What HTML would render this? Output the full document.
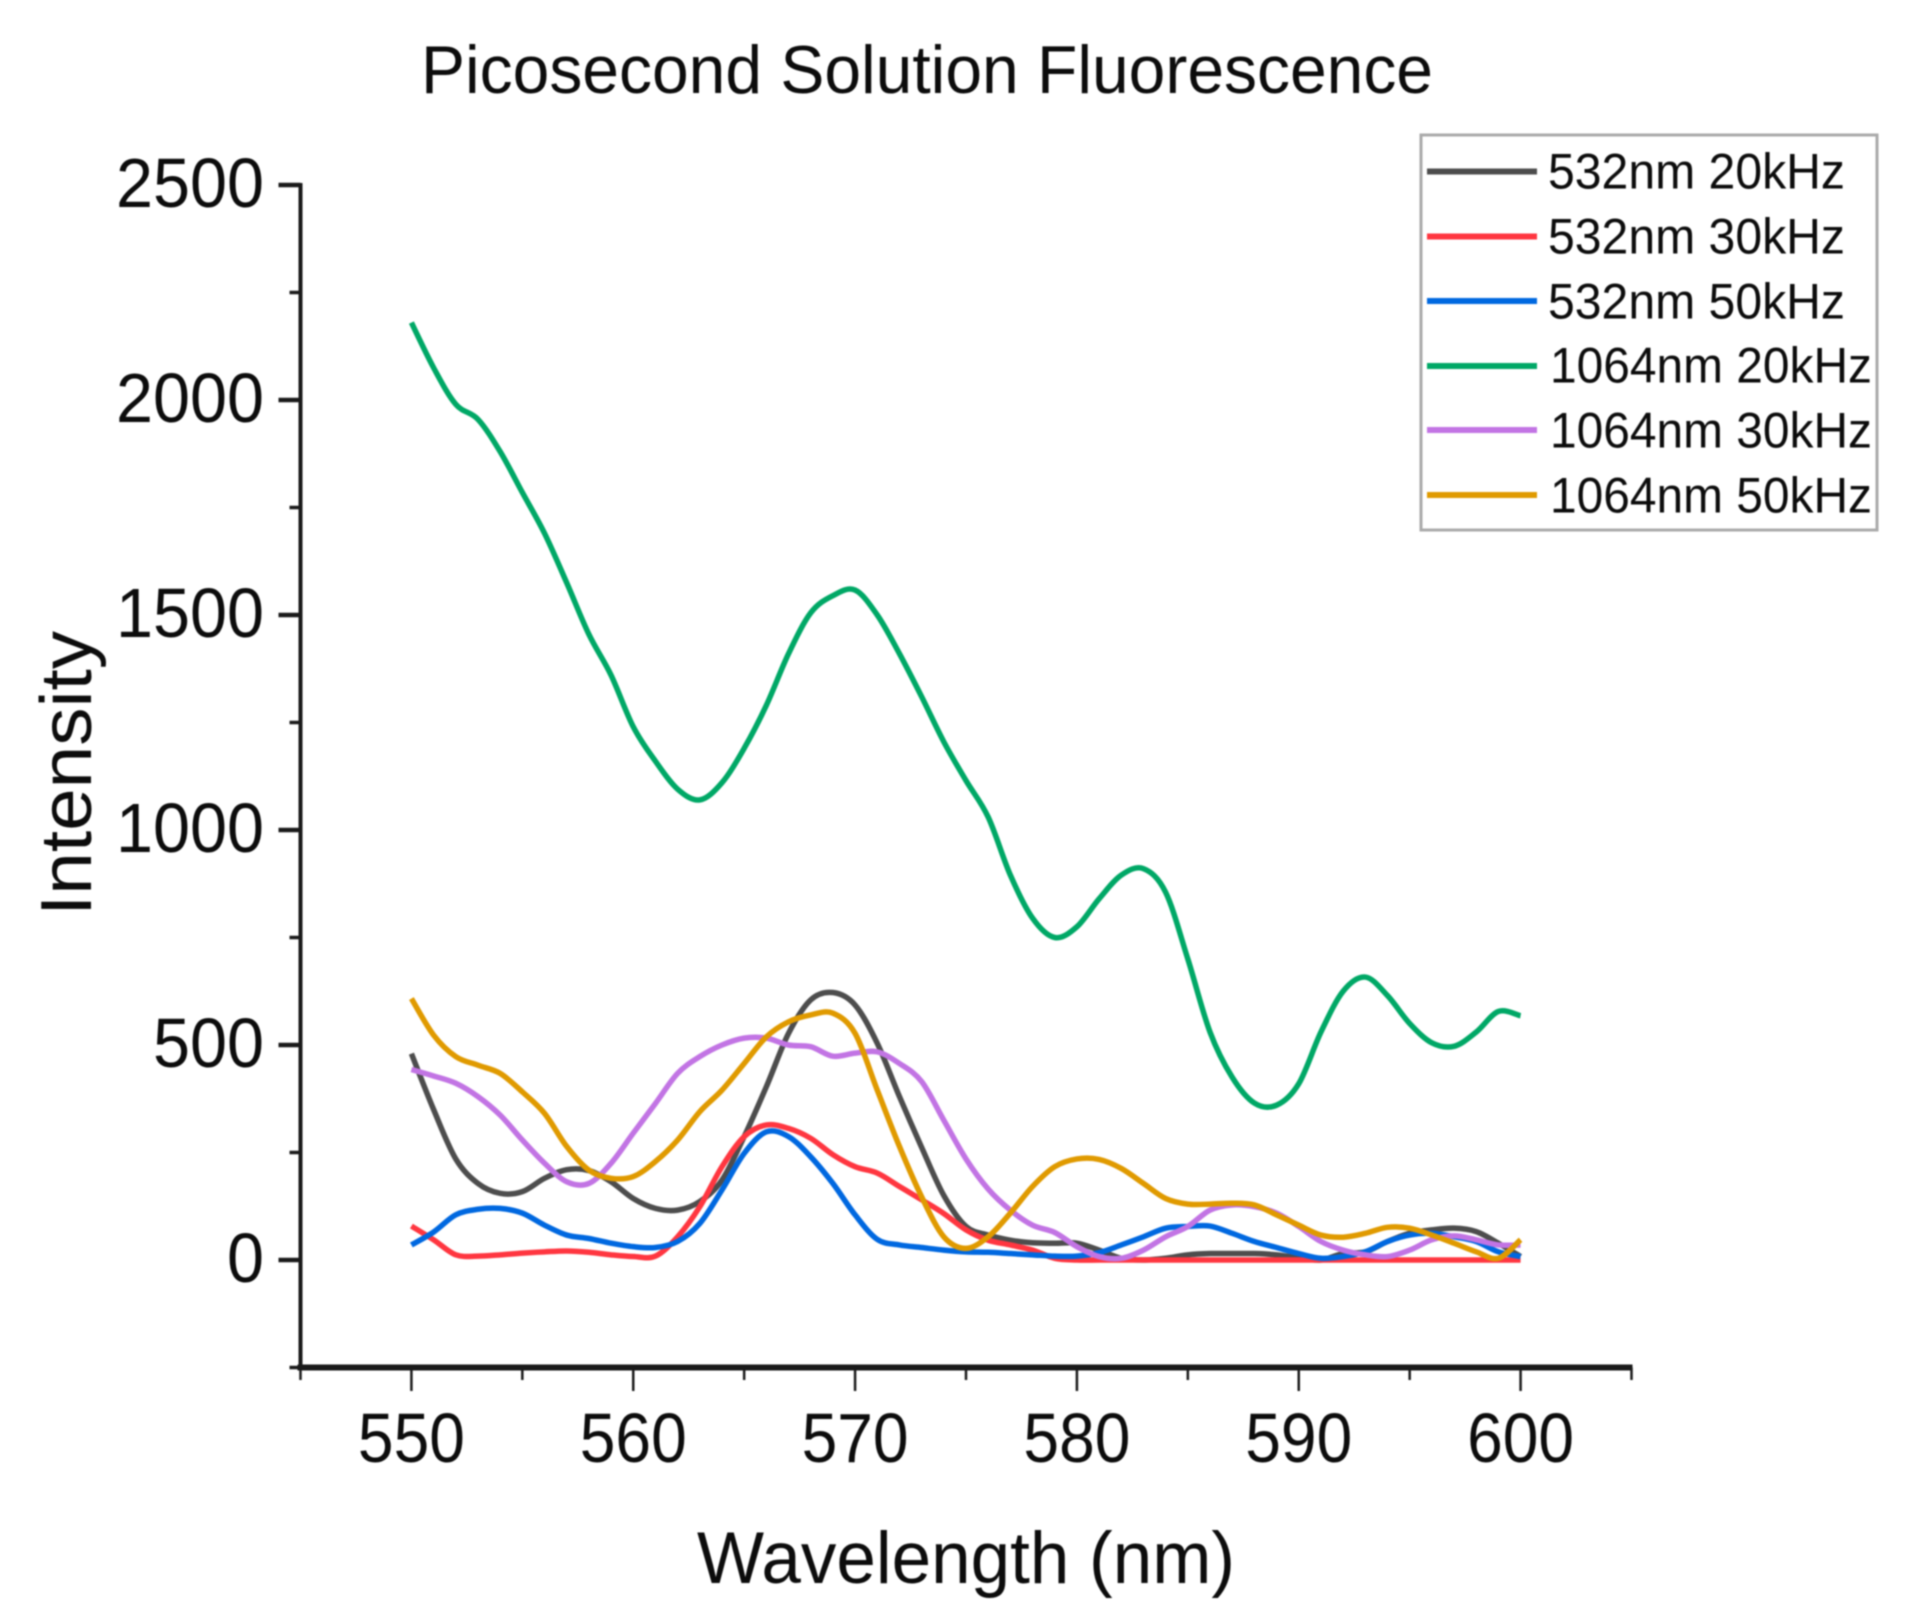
<!DOCTYPE html>
<html lang="en">
<head>
<meta charset="utf-8">
<title>Picosecond Solution Fluorescence</title>
<style>
  html, body { margin: 0; padding: 0; background: #fff; }
  body { width: 1920px; height: 1620px; overflow: hidden; }
  svg { display: block; filter: blur(0.9px); font-family: "Liberation Sans", Arial, sans-serif; }
  text { fill: #0c0c0c; }
</style>
</head>
<body>
<svg id="chart" xmlns="http://www.w3.org/2000/svg" width="1920" height="1620" viewBox="0 0 1920 1620">
  <text x="421" y="93" font-size="68" textLength="1012" lengthAdjust="spacingAndGlyphs">Picosecond Solution Fluorescence</text>
  <text x="697" y="1583" font-size="73" textLength="538" lengthAdjust="spacingAndGlyphs">Wavelength (nm)</text>
  <text transform="translate(91 916) rotate(-90)" font-size="72" textLength="285" lengthAdjust="spacingAndGlyphs">Intensity</text>
  <g id="axes"></g>
  <g id="series"></g>
  <g id="legend">
    <rect x="1421" y="135" width="456" height="395" fill="#fff" stroke="#aaa" stroke-width="3"/>
    <g>
      <line x1="1427" x2="1537" y1="171.5" y2="171.5" stroke="#4d4d4d" stroke-width="6"/>
      <text x="1548" y="188.5" font-size="50" textLength="297" lengthAdjust="spacingAndGlyphs">532nm 20kHz</text>
    </g>
    <g>
      <line x1="1427" x2="1537" y1="236.5" y2="236.5" stroke="#ff3640" stroke-width="6"/>
      <text x="1548" y="253.5" font-size="50" textLength="297" lengthAdjust="spacingAndGlyphs">532nm 30kHz</text>
    </g>
    <g>
      <line x1="1427" x2="1537" y1="301" y2="301" stroke="#0068e0" stroke-width="6"/>
      <text x="1548" y="318.5" font-size="50" textLength="297" lengthAdjust="spacingAndGlyphs">532nm 50kHz</text>
    </g>
    <g>
      <line x1="1427" x2="1537" y1="366" y2="366" stroke="#00a866" stroke-width="6"/>
      <text x="1550" y="382.5" font-size="50" textLength="322" lengthAdjust="spacingAndGlyphs">1064nm 20kHz</text>
    </g>
    <g>
      <line x1="1427" x2="1537" y1="430" y2="430" stroke="#c274e4" stroke-width="6"/>
      <text x="1550" y="447.5" font-size="50" textLength="322" lengthAdjust="spacingAndGlyphs">1064nm 30kHz</text>
    </g>
    <g>
      <line x1="1427" x2="1537" y1="495" y2="495" stroke="#e09a00" stroke-width="6"/>
      <text x="1550" y="512.5" font-size="50" textLength="322" lengthAdjust="spacingAndGlyphs">1064nm 50kHz</text>
    </g>
  </g>
</svg>
<script>
const wavelengths = [550,551,552,553,554,555,556,557,558,559,560,561,562,563,564,565,566,567,568,569,570,571,572,573,574,575,576,577,578,579,580,581,582,583,584,585,586,587,588,589,590,591,592,593,594,595,596,597,598,599,600];
const s532nm20kHz = [480,350,235,178,155,159,190,210,208,182,143,120,116,136,186,287,403,527,605,622,593,504,380,262,150,78,58,46,40,39,39,23,4,0,4,12,15,15,15,12,5,0,15,19,43,62,70,74,66,39,8];
const s532nm30kHz = [79,47,12,9,12,16,19,21,18,12,8,9,54,124,217,287,314,306,283,245,217,202,171,140,108,70,46,35,23,4,0,0,0,0,0,0,0,0,0,0,0,0,0,0,0,0,0,0,0,0,0];
const s532nm50kHz = [35,65,105,118,120,109,81,58,50,39,31,29,43,85,163,248,298,287,240,178,105,48,35,29,23,19,18,15,12,9,9,17,35,54,74,78,79,62,43,29,15,4,8,19,43,58,62,54,43,19,8];
const s1064nm20kHz = [2180,2075,1990,1955,1880,1785,1690,1575,1455,1360,1240,1160,1095,1070,1110,1190,1290,1410,1505,1545,1558,1500,1410,1310,1205,1115,1030,895,795,750,775,840,895,910,855,700,530,425,365,360,410,530,625,658,615,550,505,497,530,578,568];
const s1064nm30kHz = [443,428,411,380,337,279,225,182,178,225,295,364,434,473,500,516,516,500,496,474,481,484,457,415,325,235,165,116,81,64,31,8,4,23,54,78,116,128,124,109,78,43,23,12,8,23,47,56,47,35,35];
const s1064nm50kHz = [608,523,473,453,434,391,341,264,209,190,194,229,279,345,395,457,519,554,570,574,527,395,264,147,54,27,54,109,171,217,235,234,213,178,143,130,130,132,128,105,81,58,53,62,76,74,58,39,19,4,47];

const xTickLabels = [550,560,570,580,590,600];
const xMinorTicks = [545,555,565,575,585,595,605];
const yTickLabels = [0,500,1000,1500,2000,2500];
const yMinorTicks = [-250,250,750,1250,1750,2250];

const SVG_NS = 'http://www.w3.org/2000/svg';
const xMin = 545, xMax = 605, yMin = -250, yMax = 2500;
const plotLeft = 300.5, plotRight = 1631.5, plotTop = 185, plotBottom = 1367.5;

function xScale(v) { return plotLeft + (v - xMin) / (xMax - xMin) * (plotRight - plotLeft); }
function yScale(v) { return plotBottom - (v - yMin) / (yMax - yMin) * (plotBottom - plotTop); }

const axes = document.getElementById('axes');
const seriesGroup = document.getElementById('series');

function addLine(x1, y1, x2, y2, width) {
  const el = document.createElementNS(SVG_NS, 'line');
  el.setAttribute('x1', x1);
  el.setAttribute('y1', y1);
  el.setAttribute('x2', x2);
  el.setAttribute('y2', y2);
  el.setAttribute('stroke', '#1a1a1a');
  el.setAttribute('stroke-width', width);
  axes.appendChild(el);
  return el;
}

function addLabel(x, y, text, anchor, size, length) {
  const el = document.createElementNS(SVG_NS, 'text');
  el.setAttribute('x', x);
  el.setAttribute('y', y);
  el.setAttribute('text-anchor', anchor);
  el.setAttribute('font-size', size);
  el.setAttribute('textLength', length);
  el.setAttribute('lengthAdjust', 'spacingAndGlyphs');
  el.textContent = text;
  axes.appendChild(el);
  return el;
}

const yAxisLine = addLine(plotLeft, plotTop - 2, plotLeft, plotBottom, 4);



const xAxisLine = addLine(plotLeft - 3, plotBottom, plotRight + 1, plotBottom, 6);



xTickLabels.forEach(function (v) {
  const tick = addLine(xScale(v), plotBottom, xScale(v), 1391, 2.5);
  
  
  const label = addLabel(xScale(v), 1462, String(v), 'middle', 70, 107);
  
  
});

xMinorTicks.forEach(function (v) {
  const tick = addLine(xScale(v), plotBottom, xScale(v), 1380, 2.5);
  
  
});

yTickLabels.forEach(function (v) {
  const tick = addLine(278.5, yScale(v), plotLeft, yScale(v), 4.5);
  
  
  const text = String(v);
  const label = addLabel(264, yScale(v) + 22, text, 'end', 70, text.length * 37);
  
  
});

yMinorTicks.forEach(function (v) {
  const tick = addLine(289.5, yScale(v), plotLeft, yScale(v), 3.5);
  
  
});

function smoothPath(values) {
  const pts = values.map(function (v, i) { return [xScale(wavelengths[i]), yScale(v)]; });
  let d = 'M' + pts[0][0].toFixed(2) + ' ' + pts[0][1].toFixed(2);
  for (let i = 0; i < pts.length - 1; i++) {
    const p0 = pts[Math.max(i - 1, 0)];
    const p1 = pts[i];
    const p2 = pts[i + 1];
    const p3 = pts[Math.min(i + 2, pts.length - 1)];
    const c1x = p1[0] + (p2[0] - p0[0]) / 6;
    const c1y = p1[1] + (p2[1] - p0[1]) / 6;
    const c2x = p2[0] - (p3[0] - p1[0]) / 6;
    const c2y = p2[1] - (p3[1] - p1[1]) / 6;
    d += 'C' + c1x.toFixed(2) + ' ' + c1y.toFixed(2) + ' ' + c2x.toFixed(2) + ' ' + c2y.toFixed(2) + ' ' + p2[0].toFixed(2) + ' ' + p2[1].toFixed(2);
  }
  return d;
}

function addSeries(values, color) {
  const el = document.createElementNS(SVG_NS, 'path');
  el.setAttribute('d', smoothPath(values));
  el.setAttribute('fill', 'none');
  el.setAttribute('stroke', color);
  el.setAttribute('stroke-width', '5.5');
  el.setAttribute('stroke-linejoin', 'round');
  seriesGroup.appendChild(el);
  return el;
}

const line532a = addSeries(s532nm20kHz, '#4d4d4d');



const line532b = addSeries(s532nm30kHz, '#ff3640');



const line532c = addSeries(s532nm50kHz, '#0068e0');



const line1064a = addSeries(s1064nm20kHz, '#00a866');



const line1064b = addSeries(s1064nm30kHz, '#c274e4');



const line1064c = addSeries(s1064nm50kHz, '#e09a00');


</script>
</body>
</html>
